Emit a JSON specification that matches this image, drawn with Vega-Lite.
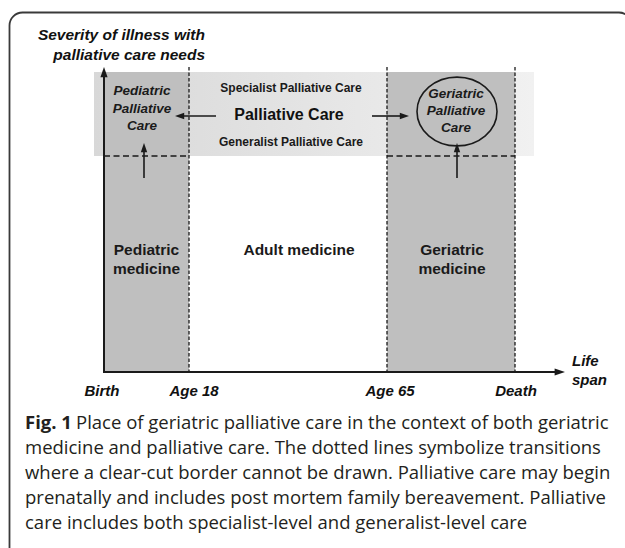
{
  "$schema": "https://vega.github.io/schema/vega-lite/v6.json",
  "width": 625,
  "height": 548,
  "padding": 0,
  "autosize": {"type": "none"},
  "background": "white",
  "config": {"view": {"stroke": null}},
  "datasets": {
    "frame": [{"x": 9.5, "y": 12.5, "x2": 632, "y2": 620}],
    "band": [{"x": 94, "y": 72, "x2": 534, "y2": 156}],
    "columns": [
      {"stage": "Pediatric", "x": 104, "x2": 189, "y": 72, "y2": 372},
      {"stage": "Geriatric", "x": 387, "x2": 515, "y": 72, "y2": 372}
    ],
    "transitions": [
      {"label": "Age 18", "x": 189, "y": 67, "y2": 372},
      {"label": "Age 65", "x": 387, "y": 67, "y2": 372},
      {"label": "Death", "x": 515, "y": 67, "y2": 372}
    ],
    "thresholds": [
      {"stage": "Pediatric", "x": 104, "x2": 189, "y": 156},
      {"stage": "Geriatric", "x": 387, "x2": 515, "y": 156}
    ],
    "axisLines": [
      {"axis": "severity", "x": 104, "y": 373, "x2": 104, "y2": 74, "tipX": 104, "tipY": 67, "dir": "up"},
      {"axis": "life span", "x": 103, "y": 372, "x2": 558, "y2": 372, "tipX": 565, "tipY": 372, "dir": "right"}
    ],
    "arrows": [
      {"name": "to pediatric", "x": 144, "y": 178, "x2": 144, "y2": 148, "tipX": 144, "tipY": 143, "dir": "up"},
      {"name": "to geriatric", "x": 457, "y": 178, "x2": 457, "y2": 148, "tipX": 457, "tipY": 143, "dir": "up"},
      {"name": "left", "x": 216, "y": 116, "x2": 180, "y2": 116, "tipX": 175, "tipY": 116, "dir": "left"},
      {"name": "right", "x": 372, "y": 116, "x2": 404, "y2": 116, "tipX": 409, "tipY": 116, "dir": "right"}
    ],
    "circle": [{"x": 457, "y": 111.5}],
    "yTitle": [
      {"x": 205, "y": 35, "text": "Severity of illness with"},
      {"x": 205, "y": 55, "text": "palliative care needs"}
    ],
    "careItalic": [
      {"x": 142, "y": 91, "text": "Pediatric"},
      {"x": 142, "y": 108.5, "text": "Palliative"},
      {"x": 142, "y": 126, "text": "Care"},
      {"x": 456, "y": 94, "text": "Geriatric"},
      {"x": 456, "y": 111, "text": "Palliative"},
      {"x": 456, "y": 128, "text": "Care"}
    ],
    "levels": [
      {"x": 291, "y": 88, "text": "Specialist Palliative Care"},
      {"x": 291, "y": 142, "text": "Generalist Palliative Care"}
    ],
    "main": [{"x": 289, "y": 115, "text": "Palliative Care"}],
    "medicine": [
      {"x": 146.5, "y": 250, "text": "Pediatric"},
      {"x": 146.5, "y": 269, "text": "medicine"},
      {"x": 299, "y": 250, "text": "Adult medicine"},
      {"x": 452, "y": 250, "text": "Geriatric"},
      {"x": 452, "y": 269, "text": "medicine"}
    ],
    "ticks": [
      {"x": 102, "y": 391, "text": "Birth"},
      {"x": 194, "y": 391, "text": "Age 18"},
      {"x": 390, "y": 391, "text": "Age 65"},
      {"x": 516, "y": 391, "text": "Death"}
    ],
    "xTitle": [
      {"x": 572, "y": 361, "text": "Life"},
      {"x": 572, "y": 380, "text": "span"}
    ],
    "captionBold": [{"x": 25, "y": 423, "text": "Fig. 1"}],
    "caption": [
      {"x": 76, "y": 423, "text": "Place of geriatric palliative care in the context of both geriatric"},
      {"x": 25, "y": 448, "text": "medicine and palliative care. The dotted lines symbolize transitions"},
      {"x": 25, "y": 473, "text": "where a clear-cut border cannot be drawn. Palliative care may begin"},
      {"x": 25, "y": 498, "text": "prenatally and includes post mortem family bereavement. Palliative"},
      {"x": 25, "y": 523, "text": "care includes both specialist-level and generalist-level care"}
    ]
  },
  "encoding": {
    "x": {"field": "x", "type": "quantitative", "scale": {"domain": [0, 625], "nice": false, "zero": false}, "axis": null},
    "y": {"field": "y", "type": "quantitative", "scale": {"domain": [0, 548], "nice": false, "zero": false, "reverse": true}, "axis": null}
  },
  "layer": [
    {
      "data": {"name": "frame"},
      "mark": {"type": "rect", "fill": null, "fillOpacity": 0, "stroke": "#3a3a3a", "strokeWidth": 1.8, "cornerRadius": 13},
      "encoding": {"x2": {"field": "x2"}, "y2": {"field": "y2"}}
    },
    {
      "data": {"name": "band"},
      "mark": {"type": "rect", "color": {"gradient": "linear", "x1": 0, "y1": 0, "x2": 1, "y2": 0, "stops": [{"offset": 0, "color": "#d8d8d8"}, {"offset": 1, "color": "#f1f1f1"}]}},
      "encoding": {"x2": {"field": "x2"}, "y2": {"field": "y2"}}
    },
    {
      "data": {"name": "columns"},
      "mark": {"type": "rect", "color": "#bfbfbf"},
      "encoding": {"x2": {"field": "x2"}, "y2": {"field": "y2"}}
    },
    {
      "data": {"name": "transitions"},
      "mark": {"type": "rule", "color": "#1a1a1a", "strokeWidth": 1.3, "strokeDash": [3.5, 2]},
      "encoding": {"y2": {"field": "y2"}}
    },
    {
      "data": {"name": "thresholds"},
      "mark": {"type": "rule", "color": "#1a1a1a", "strokeWidth": 1.6, "strokeDash": [6, 3.5]},
      "encoding": {"x2": {"field": "x2"}}
    },
    {
      "data": {"name": "axisLines"},
      "mark": {"type": "rule", "color": "#1a1a1a", "strokeWidth": 2},
      "encoding": {"x2": {"field": "x2"}, "y2": {"field": "y2"}}
    },
    {
      "data": {"name": "axisLines"},
      "transform": [{"filter": "datum.dir === 'up'"}],
      "mark": {"type": "point", "shape": "M0,0L-0.8,2.3L0.8,2.3Z", "filled": true, "color": "#1a1a1a", "opacity": 1},
      "encoding": {"x": {"field": "tipX", "type": "quantitative"}, "y": {"field": "tipY", "type": "quantitative"}, "size": {"value": 81}}
    },
    {
      "data": {"name": "axisLines"},
      "transform": [{"filter": "datum.dir === 'right'"}],
      "mark": {"type": "point", "shape": "M0,0L-2.3,-0.8L-2.3,0.8Z", "filled": true, "color": "#1a1a1a", "opacity": 1},
      "encoding": {"x": {"field": "tipX", "type": "quantitative"}, "y": {"field": "tipY", "type": "quantitative"}, "size": {"value": 81}}
    },
    {
      "data": {"name": "arrows"},
      "mark": {"type": "rule", "color": "#1a1a1a", "strokeWidth": 1.6},
      "encoding": {"x2": {"field": "x2"}, "y2": {"field": "y2"}}
    },
    {
      "data": {"name": "arrows"},
      "transform": [{"filter": "datum.dir === 'up'"}],
      "mark": {"type": "point", "shape": "M0,0L-0.8,2.3L0.8,2.3Z", "filled": true, "color": "#1a1a1a", "opacity": 1},
      "encoding": {"x": {"field": "tipX", "type": "quantitative"}, "y": {"field": "tipY", "type": "quantitative"}, "size": {"value": 64}}
    },
    {
      "data": {"name": "arrows"},
      "transform": [{"filter": "datum.dir === 'left'"}],
      "mark": {"type": "point", "shape": "M0,0L2.3,-0.8L2.3,0.8Z", "filled": true, "color": "#1a1a1a", "opacity": 1},
      "encoding": {"x": {"field": "tipX", "type": "quantitative"}, "y": {"field": "tipY", "type": "quantitative"}, "size": {"value": 64}}
    },
    {
      "data": {"name": "arrows"},
      "transform": [{"filter": "datum.dir === 'right'"}],
      "mark": {"type": "point", "shape": "M0,0L-2.3,-0.8L-2.3,0.8Z", "filled": true, "color": "#1a1a1a", "opacity": 1},
      "encoding": {"x": {"field": "tipX", "type": "quantitative"}, "y": {"field": "tipY", "type": "quantitative"}, "size": {"value": 64}}
    },
    {
      "data": {"name": "circle"},
      "mark": {"type": "point", "shape": "M-1,0A1,0.86 0 1,1 1,0A1,0.86 0 1,1 -1,0Z", "size": 6400, "filled": false, "stroke": "#1a1a1a", "strokeWidth": 1.6, "opacity": 1}
    },
    {
      "data": {"name": "yTitle"},
      "mark": {"type": "text", "align": "right", "baseline": "middle", "font": "Liberation Sans", "fontSize": 15.5, "fontWeight": "bold", "fontStyle": "italic", "color": "#111"},
      "encoding": {"text": {"field": "text"}}
    },
    {
      "data": {"name": "careItalic"},
      "mark": {"type": "text", "align": "center", "baseline": "middle", "font": "Liberation Sans", "fontSize": 13.5, "fontWeight": "bold", "fontStyle": "italic", "color": "#1a1a1a"},
      "encoding": {"text": {"field": "text"}}
    },
    {
      "data": {"name": "levels"},
      "mark": {"type": "text", "align": "center", "baseline": "middle", "font": "Liberation Sans", "fontSize": 12, "fontWeight": "bold", "color": "#1a1a1a"},
      "encoding": {"text": {"field": "text"}}
    },
    {
      "data": {"name": "main"},
      "mark": {"type": "text", "align": "center", "baseline": "middle", "font": "Liberation Sans", "fontSize": 16, "fontWeight": "bold", "color": "#111"},
      "encoding": {"text": {"field": "text"}}
    },
    {
      "data": {"name": "medicine"},
      "mark": {"type": "text", "align": "center", "baseline": "middle", "font": "Liberation Sans", "fontSize": 15.5, "fontWeight": "bold", "color": "#1a1a1a"},
      "encoding": {"text": {"field": "text"}}
    },
    {
      "data": {"name": "ticks"},
      "mark": {"type": "text", "align": "center", "baseline": "middle", "font": "Liberation Sans", "fontSize": 15, "fontWeight": "bold", "fontStyle": "italic", "color": "#111"},
      "encoding": {"text": {"field": "text"}}
    },
    {
      "data": {"name": "xTitle"},
      "mark": {"type": "text", "align": "left", "baseline": "middle", "font": "Liberation Sans", "fontSize": 15, "fontWeight": "bold", "fontStyle": "italic", "color": "#111"},
      "encoding": {"text": {"field": "text"}}
    },
    {
      "data": {"name": "captionBold"},
      "mark": {"type": "text", "align": "left", "baseline": "middle", "font": "Open Sans", "fontSize": 18.5, "fontWeight": "bold", "color": "#231f20"},
      "encoding": {"text": {"field": "text"}}
    },
    {
      "data": {"name": "caption"},
      "mark": {"type": "text", "align": "left", "baseline": "middle", "font": "Open Sans", "fontSize": 18.5, "color": "#231f20"},
      "encoding": {"text": {"field": "text"}}
    }
  ]
}
